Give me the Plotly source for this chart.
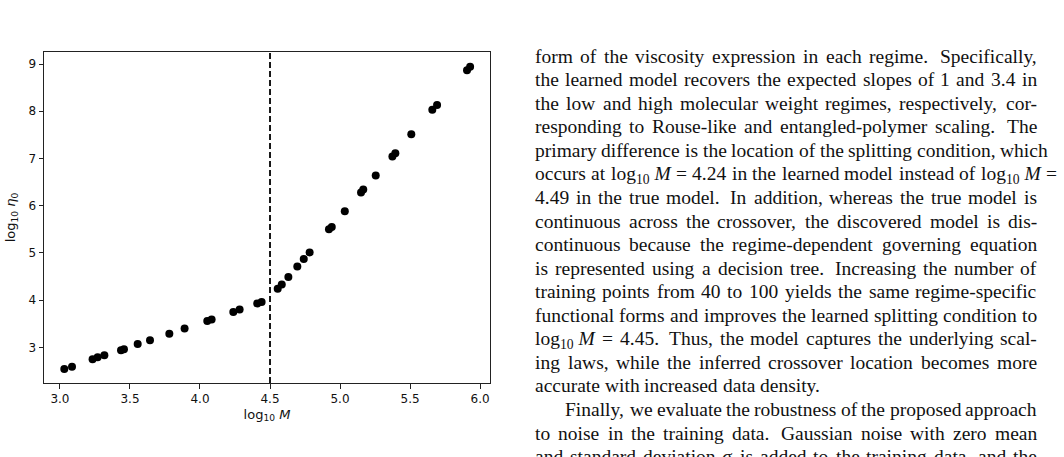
import plotly.graph_objects as go

# ---------------- data ----------------
log_M = [3.031, 3.086, 3.233, 3.269, 3.317, 3.436, 3.457, 3.555, 3.643, 3.781,
         3.890, 4.052, 4.083, 4.238, 4.283, 4.409, 4.440, 4.555, 4.584, 4.631,
         4.695, 4.741, 4.783, 4.921, 4.941, 5.034, 5.150, 5.166, 5.255, 5.374,
         5.395, 5.509, 5.659, 5.693, 5.907, 5.929]
log_eta = [2.54, 2.59, 2.75, 2.79, 2.83, 2.94, 2.96, 3.07, 3.15, 3.29,
           3.40, 3.56, 3.59, 3.75, 3.80, 3.93, 3.96, 4.24, 4.33, 4.49,
           4.71, 4.87, 5.01, 5.50, 5.55, 5.88, 6.28, 6.34, 6.64, 7.04,
           7.11, 7.51, 8.03, 8.13, 8.87, 8.94]
split_x = 4.5
x_ticks = [3.0, 3.5, 4.0, 4.5, 5.0, 5.5, 6.0]
x_tick_labels = ["3.0", "3.5", "4.0", "4.5", "5.0", "5.5", "6.0"]
y_ticks = [3, 4, 5, 6, 7, 8, 9]
y_tick_labels = ["3", "4", "5", "6", "7", "8", "9"]

text_lines = [
    "form of the viscosity expression in each regime. Specifically,",
    "the learned model recovers the expected slopes of 1 and 3.4 in",
    "the low and high molecular weight regimes, respectively, cor-",
    "responding to Rouse-like and entangled-polymer scaling. The",
    "primary difference is the location of the splitting condition, which",
    "occurs at LOGM = 4.24 in the learned model instead of LOGM =",
    "4.49 in the true model. In addition, whereas the true model is",
    "continuous across the crossover, the discovered model is dis-",
    "continuous because the regime-dependent governing equation",
    "is represented using a decision tree. Increasing the number of",
    "training points from 40 to 100 yields the same regime-specific",
    "functional forms and improves the learned splitting condition to",
    "LOGM = 4.45. Thus, the model captures the underlying scal-",
    "ing laws, while the inferred crossover location becomes more",
    "accurate with increased data density.",
    "Finally, we evaluate the robustness of the proposed approach",
    "to noise in the training data. Gaussian noise with zero mean",
    "and standard deviation σ is added to the training data, and the",
]

# ---------------- layout geometry (pixels) ----------------
FIG_W, FIG_H = 1064, 457
AX_L, AX_R, AX_T, AX_B = 44, 490, 52, 383
PW, PH = AX_R - AX_L, AX_B - AX_T

def px_x(px):
    return (px - AX_L) / PW

def px_y(py):
    return (AX_B - py) / PH

fig = go.Figure()
fig.add_trace(go.Scatter(
    x=log_M, y=log_eta, mode="markers",
    marker=dict(color="black", size=8, line=dict(width=0)),
    showlegend=False, hoverinfo="skip"))

fig.add_shape(type="line", xref="x", yref="paper", x0=split_x, x1=split_x,
              y0=0, y1=1, line=dict(color="black", width=1.8, dash="6px,3px"))

axis_font = dict(family="DejaVu Sans", size=12, color="#111111")
fig.update_xaxes(range=[2.886, 6.071], tickvals=x_ticks, ticktext=x_tick_labels,
                 showgrid=False, zeroline=False, showline=True, mirror=True,
                 linecolor="#222222", linewidth=1, ticks="outside", ticklen=4.5,
                 tickcolor="#222222", tickwidth=1, tickfont=axis_font,
                 title=dict(text="log<sub>10</sub> <i>M</i>",
                            font=dict(family="DejaVu Sans", size=13, color="#111111"),
                            standoff=4))
fig.update_yaxes(range=[2.245, 9.254], tickvals=y_ticks, ticktext=y_tick_labels,
                 showgrid=False, zeroline=False, showline=True, mirror=True,
                 linecolor="#222222", linewidth=1, ticks="outside", ticklen=4.5,
                 tickcolor="#222222", tickwidth=1, tickfont=axis_font,
                 title=dict(text="log<sub>10</sub> <i>η</i><sub>0</sub>",
                            font=dict(family="DejaVu Sans", size=13, color="#111111"),
                            standoff=9))

# ---------------- justified body text ----------------
FS = 19.5
TW = {' ': 250, 'a': 444, 'b': 500, 'c': 444, 'd': 500, 'e': 444, 'f': 333, 'g': 500,
      'h': 500, 'i': 278, 'j': 278, 'k': 500, 'l': 278, 'm': 778, 'n': 500, 'o': 500,
      'p': 500, 'q': 500, 'r': 333, 's': 389, 't': 278, 'u': 500, 'v': 500, 'w': 722,
      'x': 500, 'y': 500, 'z': 444, 'F': 556, 'G': 722, 'I': 333, 'M': 889, 'R': 667,
      'S': 556, 'T': 611, '.': 250, ',': 250, '-': 333, '=': 564, 'σ': 550}
for d in "0123456789":
    TW[d] = 500

def word_info(w):
    if w == "LOGM":
        return "log<sub>10</sub> <i>M</i>", 1278 + 700 + 250 + 833
    if w == "σ":
        return "<i>σ</i>", 550
    return w, sum(TW.get(ch, 500) for ch in w)

BASE0, LEAD = 63.0, 23.56
TEXT_L, TEXT_R = 535, 1037
right_edges = {4: 1048, 5: 1057}
not_justified = {14}
indents = {15: 30}
ASC = 0.891 * FS

for i, line in enumerate(text_lines):
    words = line.split(" ")
    info = [word_info(w) for w in words]
    widths = [u * FS / 1000 for _, u in info]
    left = TEXT_L + indents.get(i, 0)
    right = right_edges.get(i, TEXT_R)
    baseline = BASE0 + LEAD * i
    top = baseline - ASC
    n = len(words)
    # gap weights (sentence ends get a wider space, as in LaTeX)
    weights = []
    for w in words[:-1]:
        weights.append(1.5 if (w.endswith(".") and w not in ("4.24", "4.49")) else 1.0)
    if i in not_justified:
        unit = 250 * FS / 1000
    else:
        unit = (right - left - sum(widths)) / sum(weights)
    x = left
    for k, ((html, _), wpx) in enumerate(zip(info, widths)):
        last = (k == n - 1) and i not in not_justified
        fig.add_annotation(
            x=px_x(right if last else x), y=px_y(top), xref="paper", yref="paper",
            text=html, showarrow=False, xanchor="right" if last else "left",
            yanchor="top", borderpad=0, borderwidth=0,
            font=dict(family="Liberation Serif", size=FS, color="#111111"))
        if k < n - 1:
            x += wpx + unit * weights[k]

fig.update_layout(
    width=FIG_W, height=FIG_H,
    margin=dict(l=AX_L, r=FIG_W - AX_R, t=AX_T, b=FIG_H - AX_B, autoexpand=False),
    paper_bgcolor="white", plot_bgcolor="white",
)

fig.write_html("out.html")
